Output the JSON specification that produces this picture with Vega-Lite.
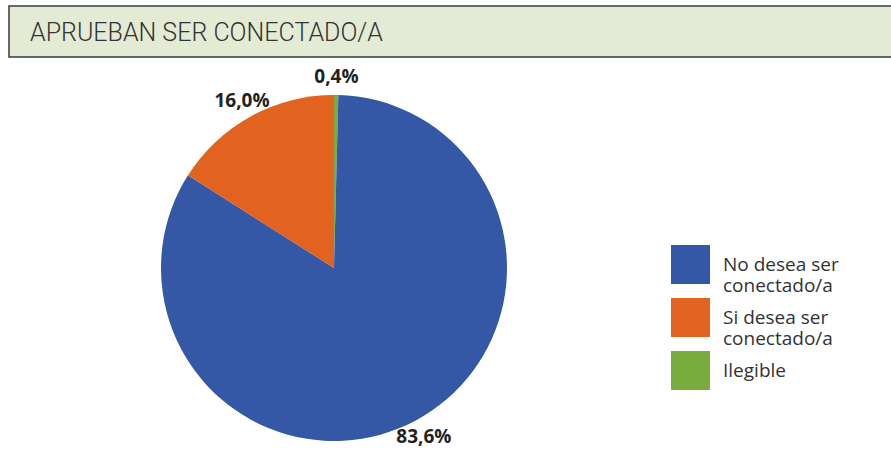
{
  "$schema": "https://vega.github.io/schema/vega-lite/v6.json",
  "background": "white",
  "padding": {"left": 8, "top": 5, "right": 0, "bottom": 0},
  "spacing": 10,
  "config": {"view": {"stroke": null}},
  "vconcat": [
    {
      "width": 883,
      "height": 51,
      "data": {"values": [{"titulo": "APRUEBAN SER CONECTADO/A"}]},
      "layer": [
        {
          "mark": {"type": "rect", "fill": "#e4ebd4", "stroke": "#3a3a3a", "strokeWidth": 1.5},
          "encoding": {}
        },
        {
          "mark": {"type": "text", "align": "left", "baseline": "middle", "dx": 21, "dy": 1, "font": "Roboto", "fontSize": 25, "fontWeight": 300, "color": "#333333"},
          "encoding": {
            "x": {"field": "titulo", "type": "nominal", "bandPosition": 0, "axis": null, "scale": {"type": "band", "paddingInner": 0, "paddingOuter": 0}},
            "text": {"field": "titulo", "type": "nominal"}
          }
        }
      ]
    },
    {
      "width": 650,
      "height": 346,
      "data": {
        "values": [
          {"categoria": "Ilegible", "valor": 0.4, "etiqueta": "0,4%"},
          {"categoria": "No desea ser conectado/a", "valor": 83.6, "etiqueta": "83,6%"},
          {"categoria": "Si desea ser conectado/a", "valor": 16.0, "etiqueta": "16,0%"}
        ]
      },
      "encoding": {
        "theta": {"field": "valor", "type": "quantitative", "stack": true},
        "order": {"field": "categoria", "sort": "ascending"}
      },
      "layer": [
        {
          "mark": {"type": "arc"},
          "encoding": {
            "color": {
              "field": "categoria",
              "type": "nominal",
              "scale": {
                "domain": ["No desea ser conectado/a", "Si desea ser conectado/a", "Ilegible"],
                "range": ["#3558a6", "#e2631f", "#7aab3e"]
              },
              "legend": {
                "title": null,
                "orient": "none",
                "legendX": 662,
                "legendY": 239,
                "padding": 0,
                "symbolType": "square",
                "symbolSize": 1521,
                "symbolStrokeWidth": 0,
                "symbolOpacity": 1,
                "labelFont": "Open Sans",
                "labelFontSize": 19,
                "labelColor": "#333333",
                "labelOffset": 13,
                "labelLimit": 300,
                "rowPadding": 2,
                "labelExpr": "datum.label == 'Ilegible' ? datum.label : split(replace(datum.label, ' conectado', '|conectado'), '|')"
              }
            }
          }
        },
        {
          "mark": {"type": "text", "radius": 191, "font": "Open Sans", "fontSize": 19, "fontWeight": "bold", "color": "#222222"},
          "encoding": {
            "text": {"field": "etiqueta", "type": "nominal"}
          }
        }
      ]
    }
  ]
}
